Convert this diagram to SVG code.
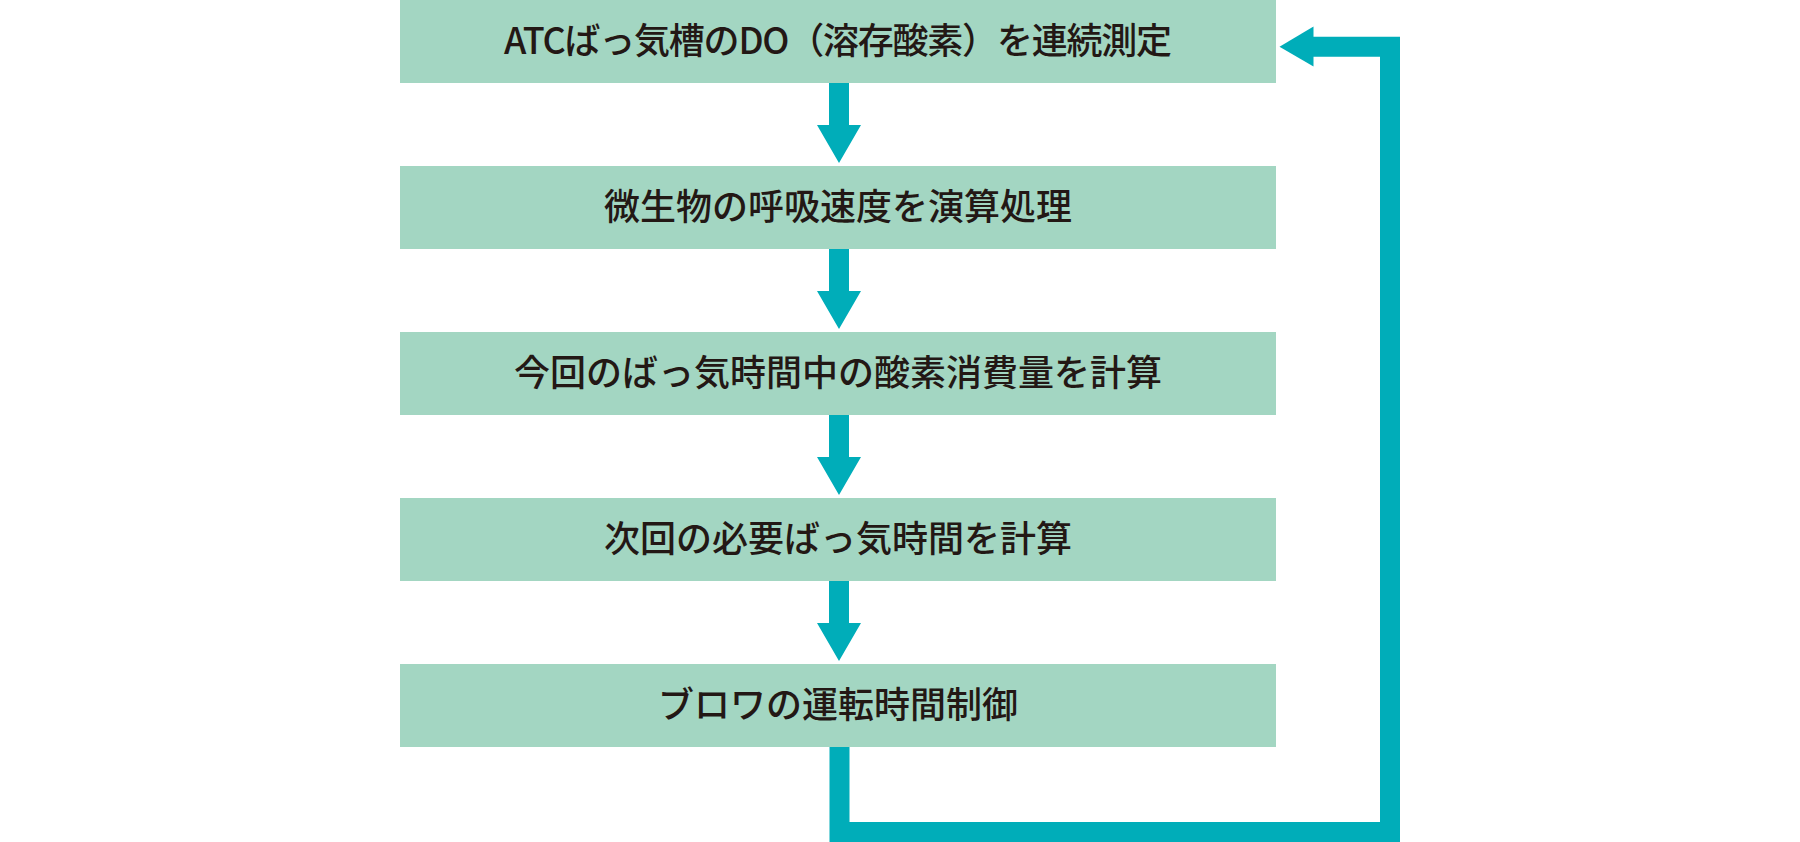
<svg xmlns="http://www.w3.org/2000/svg" width="1800" height="842" viewBox="0 0 1800 842">
<style>
.box{fill:#a3d6c2}
.lbl{font-family:"Noto Sans CJK JP","Noto Sans",sans-serif;font-size:36px;font-weight:500;fill:#231815;text-anchor:middle}
.ar{fill:#00adb9}
.ln{fill:none;stroke:#00adb9;stroke-width:20;stroke-linejoin:miter}
</style>
<rect width="1800" height="842" fill="#ffffff"/>
<g id="n1"><rect class="box" x="400" y="0" width="876" height="83"/><text class="lbl" x="838" y="54" textLength="668" lengthAdjust="spacing">ATCばっ気槽のDO（溶存酸素）を連続測定</text></g>
<g id="n2"><rect class="box" x="400" y="166" width="876" height="83"/><text class="lbl" x="838" y="220">微生物の呼吸速度を演算処理</text></g>
<g id="n3"><rect class="box" x="400" y="332" width="876" height="83"/><text class="lbl" x="838" y="386">今回のばっ気時間中の酸素消費量を計算</text></g>
<g id="n4"><rect class="box" x="400" y="498" width="876" height="83"/><text class="lbl" x="838" y="552">次回の必要ばっ気時間を計算</text></g>
<g id="n5"><rect class="box" x="400" y="664" width="876" height="83"/><text class="lbl" x="838" y="718">ブロワの運転時間制御</text></g>
<g id="connectors">
<polygon class="ar" points="829,83 849,83 849,125 861,125 839,163 817,125 829,125"/>
<polygon class="ar" points="829,249 849,249 849,291 861,291 839,329 817,291 829,291"/>
<polygon class="ar" points="829,415 849,415 849,457 861,457 839,495 817,457 829,457"/>
<polygon class="ar" points="829,581 849,581 849,623 861,623 839,661 817,623 829,623"/>
<polyline class="ln" points="839.5,747 839.5,832 1390,832 1390,46.7 1312,46.7"/>
<polygon class="ar" points="1313.5,26.5 1279.5,46.7 1313.5,66.5"/>
</g>
</svg>
